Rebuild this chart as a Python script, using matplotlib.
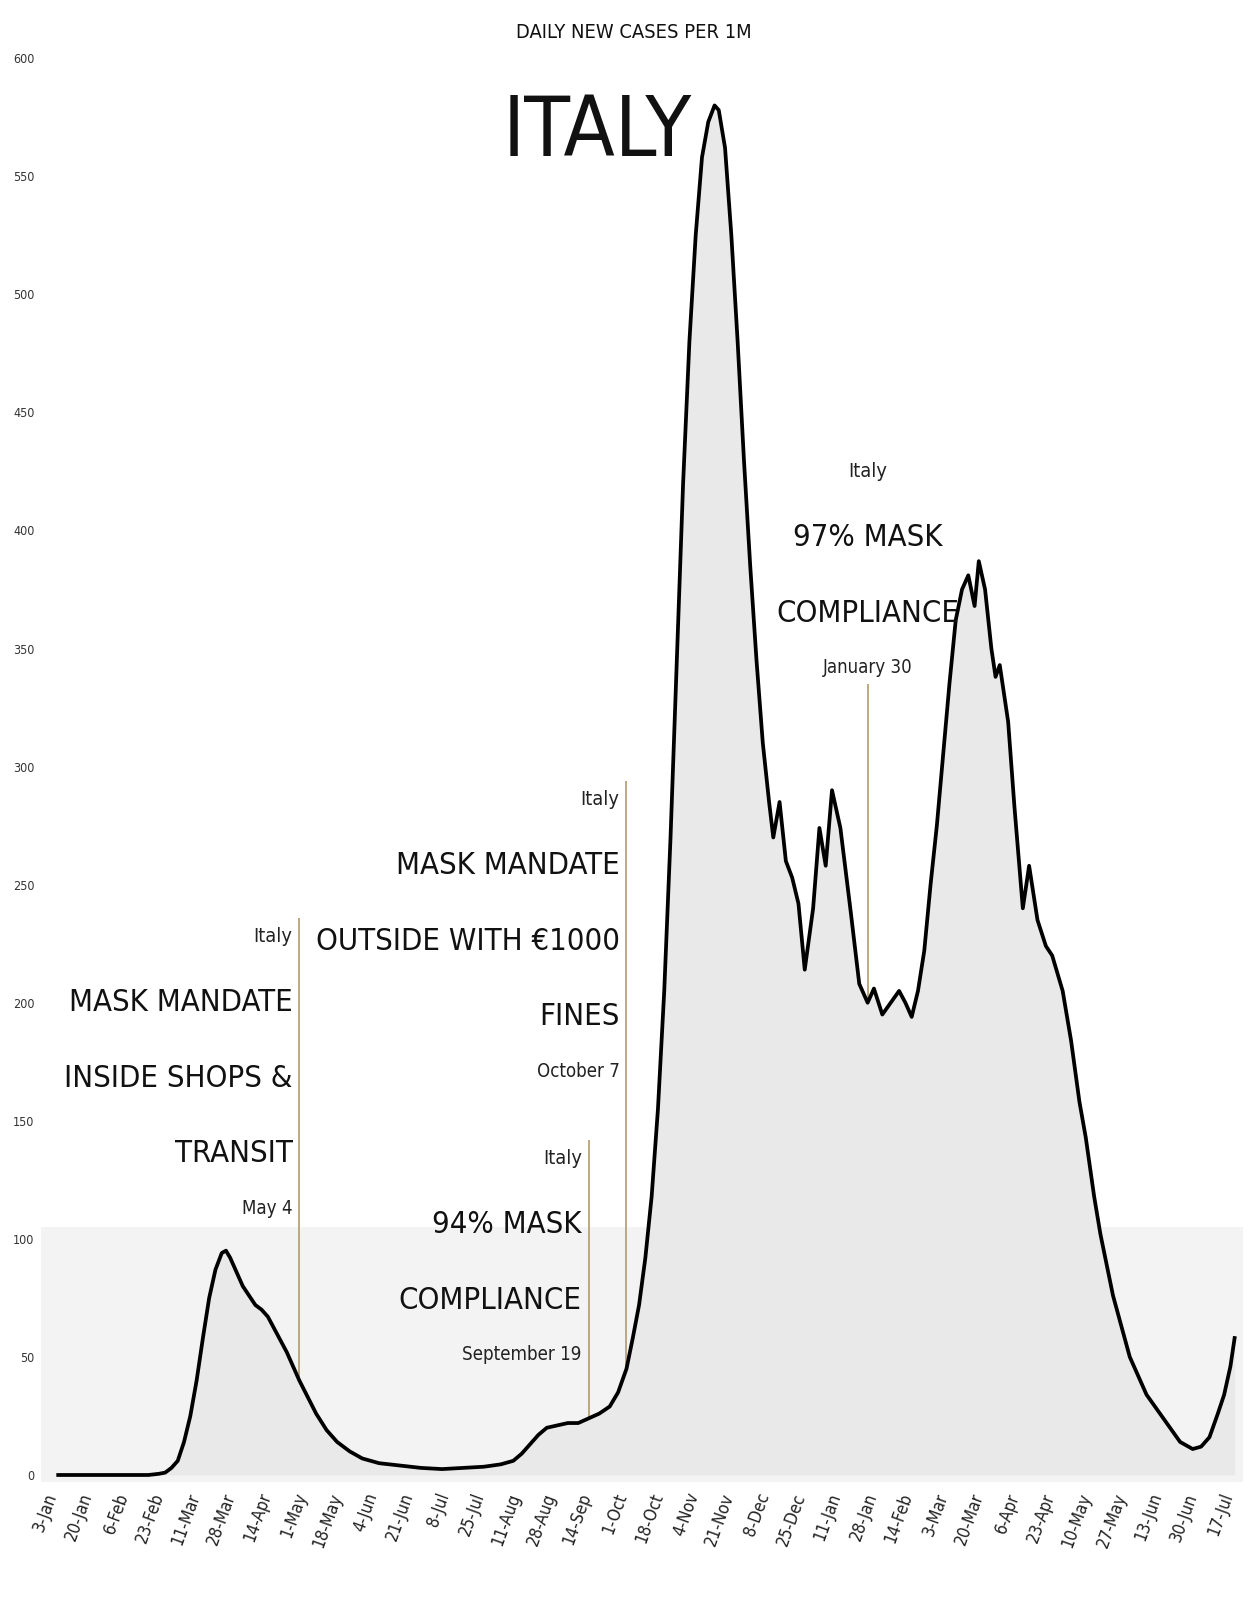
import matplotlib
matplotlib.use("Agg")
import matplotlib.pyplot as plt
import matplotlib.dates as mdates
from matplotlib import font_manager as fm
from matplotlib.transforms import offset_copy
import numpy as np
import pandas as pd

# the reference uses a narrow face; take the narrowest one that is installed
_faces = fm.fontManager.ttflist
if any(f.name == "Liberation Sans Narrow" for f in _faces):
    FAMILY, STRETCH, WF = ["Liberation Sans Narrow", "DejaVu Sans"], "condensed", 0.75
elif any(f.name == "DejaVu Sans" and f.stretch in ("condensed", "semi-condensed") for f in _faces):
    FAMILY, STRETCH, WF = ["DejaVu Sans"], "condensed", 0.9
else:
    FAMILY, STRETCH, WF = ["DejaVu Sans"], "normal", 1.0
plt.rcParams["font.family"] = FAMILY
plt.rcParams["font.stretch"] = STRETCH


def fs(size, cap):
    return min(size / WF, cap)


# daily new cases per 1M, 7-day average
dates = [
    "2020-01-10", "2020-02-02", "2020-02-22", "2020-02-27", "2020-03-01", "2020-03-04",
    "2020-03-07", "2020-03-10", "2020-03-13", "2020-03-16", "2020-03-19", "2020-03-22",
    "2020-03-25", "2020-03-28", "2020-03-30", "2020-04-01", "2020-04-04", "2020-04-07",
    "2020-04-10", "2020-04-13", "2020-04-16", "2020-04-19", "2020-04-22", "2020-04-25",
    "2020-04-28", "2020-05-01", "2020-05-04", "2020-05-08", "2020-05-12", "2020-05-17",
    "2020-05-22", "2020-05-28", "2020-06-03", "2020-06-11", "2020-06-21", "2020-07-01",
    "2020-07-11", "2020-07-21", "2020-07-31", "2020-08-08", "2020-08-14", "2020-08-18",
    "2020-08-22", "2020-08-26", "2020-08-30", "2020-09-04", "2020-09-09", "2020-09-14",
    "2020-09-19", "2020-09-24", "2020-09-29", "2020-10-03", "2020-10-07", "2020-10-10",
    "2020-10-13", "2020-10-16", "2020-10-19", "2020-10-22", "2020-10-25", "2020-10-28",
    "2020-10-31", "2020-11-03", "2020-11-06", "2020-11-09", "2020-11-12", "2020-11-15",
    "2020-11-18", "2020-11-20", "2020-11-23", "2020-11-26", "2020-11-29", "2020-12-02",
    "2020-12-05", "2020-12-08", "2020-12-11", "2020-12-14", "2020-12-16", "2020-12-19",
    "2020-12-22", "2020-12-25", "2020-12-28", "2020-12-31", "2021-01-04", "2021-01-07",
    "2021-01-10", "2021-01-13", "2021-01-17", "2021-01-22", "2021-01-26", "2021-01-30",
    "2021-02-02", "2021-02-06", "2021-02-10", "2021-02-14", "2021-02-17", "2021-02-20",
    "2021-02-23", "2021-02-26", "2021-03-01", "2021-03-04", "2021-03-07", "2021-03-10",
    "2021-03-13", "2021-03-16", "2021-03-19", "2021-03-22", "2021-03-24", "2021-03-27",
    "2021-03-30", "2021-04-01", "2021-04-03", "2021-04-07", "2021-04-10", "2021-04-14",
    "2021-04-17", "2021-04-21", "2021-04-25", "2021-04-28", "2021-05-03", "2021-05-07",
    "2021-05-11", "2021-05-14", "2021-05-18", "2021-05-21", "2021-05-27", "2021-06-04",
    "2021-06-12", "2021-06-20", "2021-06-28", "2021-07-04", "2021-07-08", "2021-07-12",
    "2021-07-16", "2021-07-19", "2021-07-22", "2021-07-24",
]
cases = [
    0, 0, 0, 0.5, 1, 3,
    6, 14, 25, 40, 58, 75,
    87, 94, 95, 92, 86, 80,
    76, 72, 70, 67, 62, 57,
    52, 46, 40, 33, 26, 19,
    14, 10, 7, 5, 4, 3,
    2.5, 3, 3.5, 4.5, 6, 9,
    13, 17, 20, 21, 22, 22,
    24, 26, 29, 35, 45, 58,
    72, 92, 118, 155, 205, 270,
    345, 420, 480, 525, 558, 573,
    580, 578, 562, 525, 480, 430,
    385, 345, 310, 285, 270, 285,
    260, 253, 242, 214, 240, 274,
    258, 290, 274, 238, 208, 200,
    206, 195, 200, 205, 200, 194,
    205, 222, 250, 275, 305, 335,
    362, 375, 381, 368, 387, 375,
    350, 338, 343, 319, 283, 240,
    258, 235, 224, 220, 205, 184,
    158, 143, 118, 102, 76, 50,
    34, 24, 14, 11, 12, 16,
    26, 34, 46, 58,
]

tick_dates = [
    "2020-01-03", "2020-01-20", "2020-02-06", "2020-02-23", "2020-03-11", "2020-03-28",
    "2020-04-14", "2020-05-01", "2020-05-18", "2020-06-04", "2020-06-21", "2020-07-08",
    "2020-07-25", "2020-08-11", "2020-08-28", "2020-09-14", "2020-10-01", "2020-10-18",
    "2020-11-04", "2020-11-21", "2020-12-08", "2020-12-25", "2021-01-11", "2021-01-28",
    "2021-02-14", "2021-03-03", "2021-03-20", "2021-04-06", "2021-04-23", "2021-05-10",
    "2021-05-27", "2021-06-13", "2021-06-30", "2021-07-17",
]
tick_labels = [
    "3-Jan", "20-Jan", "6-Feb", "23-Feb", "11-Mar", "28-Mar", "14-Apr", "1-May", "18-May",
    "4-Jun", "21-Jun", "8-Jul", "25-Jul", "11-Aug", "28-Aug", "14-Sep", "1-Oct", "18-Oct",
    "4-Nov", "21-Nov", "8-Dec", "25-Dec", "11-Jan", "28-Jan", "14-Feb", "3-Mar", "20-Mar",
    "6-Apr", "23-Apr", "10-May", "27-May", "13-Jun", "30-Jun", "17-Jul",
]
y_ticks = [0, 50, 100, 150, 200, 250, 300, 350, 400, 450, 500, 550, 600]

# annotations
ann_dates = ["2020-05-04", "2020-09-19", "2020-10-07", "2021-01-30"]
ann_lines = [
    ["MASK MANDATE", "INSIDE SHOPS &", "TRANSIT"],
    ["94% MASK", "COMPLIANCE"],
    ["MASK MANDATE", "OUTSIDE WITH €1000", "FINES"],
    ["97% MASK", "COMPLIANCE"],
]
ann_sub = ["May 4", "September 19", "October 7", "January 30"]
ann_top = [228, 134, 286, 425]          # y of the small "Italy" line
ann_align = ["right", "right", "right", "center"]

x = pd.to_datetime(dates)
y = np.array(cases, dtype=float)

fig = plt.figure(figsize=(12.48, 16.12), dpi=100)
ax = fig.add_axes([0.0332, 0.0806, 0.9628, 0.8877])

ax.axhspan(-3, 105, color="#f3f3f3", zorder=0, lw=0)
ax.fill_between(x, y, 0, color="#e9e9e9", zorder=1, lw=0)
ax.plot(x, y, color="black", lw=2.7, zorder=4, solid_joinstyle="round")

ax.set_xlim(pd.Timestamp("2020-01-02"), pd.Timestamp("2021-07-28"))
ax.set_ylim(-3, 603)

ax.set_xticks(pd.to_datetime(tick_dates))
ax.set_xticklabels(tick_labels, rotation=70, ha="right", rotation_mode="anchor",
                   fontsize=fs(11, 13), color="#222222")
ax.set_yticks(y_ticks)
ax.set_yticklabels([str(v) for v in y_ticks], fontsize=9, color="#333333")
ax.tick_params(axis="both", length=0)
ax.tick_params(axis="y", pad=5)
ax.tick_params(axis="x", pad=6)
for s in ax.spines.values():
    s.set_visible(False)

big = fs(20, 26)
small = fs(13, 15)
xnum = mdates.date2num(x)
left_shift = offset_copy(ax.transData, fig=fig, x=-5, y=0, units="points")
for d, lines, sub, top, al in zip(ann_dates, ann_lines, ann_sub, ann_top, ann_align):
    dt = pd.Timestamp(d)
    yc = float(np.interp(mdates.date2num(dt), xnum, y))
    tr = left_shift if al == "right" else ax.transData
    ax.text(dt, top, "Italy", ha=al, va="center", fontsize=small, color="#222222",
            transform=tr, zorder=5)
    yy = top - 28
    for ln in lines:
        ax.text(dt, yy, ln, ha=al, va="center", fontsize=big, color="#111111",
                transform=tr, zorder=5)
        yy -= 32
    sub_y = yy + 32 - 23
    ax.text(dt, sub_y, sub, ha=al, va="center", fontsize=small - 1, color="#222222",
            transform=tr, zorder=5)
    line_top = top + 8 if al == "right" else sub_y - 7
    ax.vlines(dt, yc, line_top, color="#b39b6b", lw=1.2, zorder=3)

fig.text(634 / 1248, 1 - 32 / 1612, "DAILY NEW CASES PER 1M", ha="center", va="center",
         fontsize=fs(13, 16), color="#111111")
fig.text(692 / 1248, 1 - 156 / 1612, "ITALY", ha="right", va="baseline",
         fontsize=fs(54, 62), color="#111111")

fig.savefig("out.png", dpi=100, facecolor="white")
